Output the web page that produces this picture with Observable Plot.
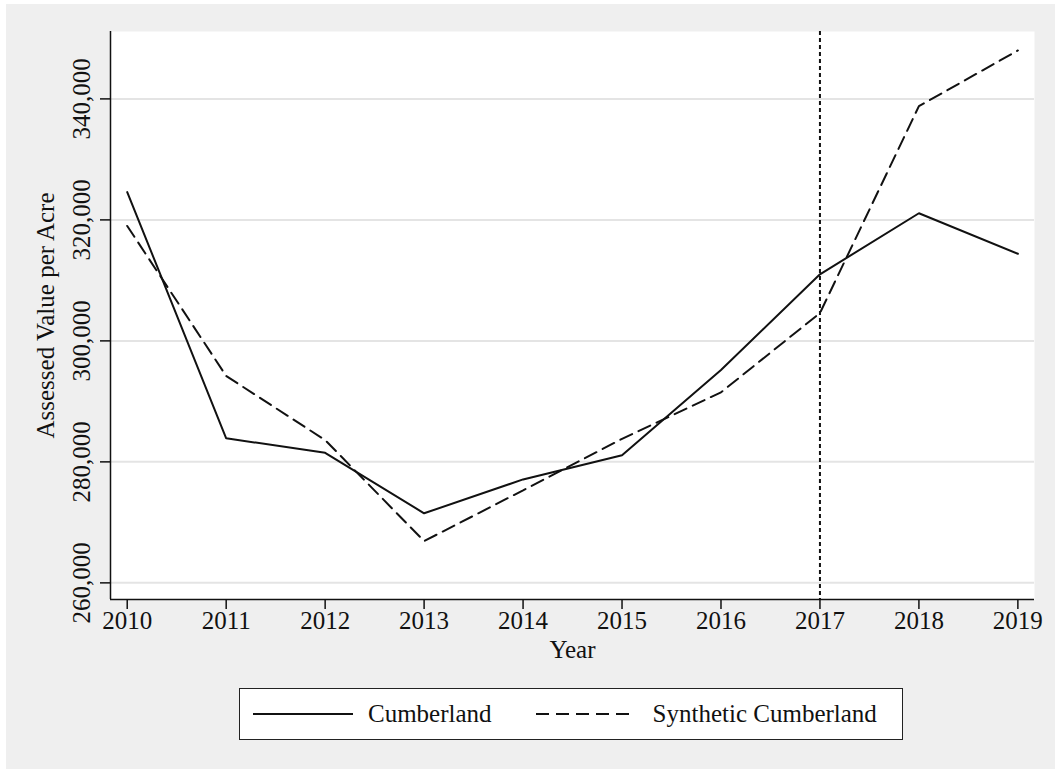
<!DOCTYPE html>
<html>
<head>
<meta charset="utf-8">
<script src="https://cdn.jsdelivr.net/npm/d3@7"></script>
<script src="https://cdn.jsdelivr.net/npm/@observablehq/plot@0.6"></script>
<style>
  html, body { margin: 0; padding: 0; background: #ffffff; }
  #panel {
    position: absolute; left: 6px; top: 4px; width: 1049px; height: 765px;
    background: #efefef; font-family: "Liberation Serif", serif;
  }
  #legend {
    position: absolute; left: 233px; top: 684px; width: 664px; height: 52px;
    box-sizing: border-box; border: 1.2px solid #222; background: #ffffff;
    display: flex; align-items: center; font-size: 25px; color: #111;
  }
  #legend svg { display: block; }
</style>
</head>
<body>
<div id="panel"></div>
<script>
// Assessed value per acre, actual vs. synthetic control
const years = [2010, 2011, 2012, 2013, 2014, 2015, 2016, 2017, 2018, 2019];
const cumberland = [324600, 283900, 281500, 271500, 277100, 281100, 295200, 311000, 321100, 314400];
const synthetic = [319000, 294200, 283600, 266900, 275300, 283800, 291500, 304600, 338800, 348000];
const yTicks = [260000, 280000, 300000, 320000, 340000];
const treatmentYear = 2017;
const seriesNames = ["Cumberland", "Synthetic Cumberland"];

const rows = years.flatMap((year, i) => [
  {year, value: cumberland[i], series: seriesNames[0]},
  {year, value: synthetic[i], series: seriesNames[1]}
]);

const xDomain = [2009.831, 2019.168];
const yDomain = [257250, 351140];
const fmt = d3.format(",");
const ink = "#111111";
const fs = 25;

const chart = Plot.plot({
  width: 1049,
  height: 665,
  marginLeft: 104,
  marginRight: 21,
  marginTop: 27,
  marginBottom: 70,
  style: {fontFamily: "Liberation Serif, serif", fontSize: fs + "px", background: "transparent", color: ink},
  x: {domain: xDomain, axis: null},
  y: {domain: yDomain, axis: null},
  marks: [
    Plot.frame({fill: "#ffffff", stroke: null}),
    Plot.ruleY(yTicks, {stroke: "#e4e4e4", strokeWidth: 2}),
    // axis lines
    Plot.ruleX([xDomain[0]], {stroke: ink, strokeWidth: 1.5}),
    Plot.ruleY([yDomain[0]], {stroke: ink, strokeWidth: 1.5}),
    // ticks and labels
    Plot.axisX(years, {anchor: "bottom", tickSize: 10, tickPadding: 2, tickFormat: d => String(d), label: null, stroke: ink, strokeWidth: 1.5, fill: ink, fontSize: fs}),
    Plot.axisY(yTicks, {anchor: "left", tickSize: 10, tickFormat: () => "", label: null, stroke: ink, strokeWidth: 1.5}),
    Plot.text(yTicks, {x: xDomain[0], y: d => d, text: d => fmt(d), rotate: -90, textAnchor: "middle", lineAnchor: "bottom", dx: -21, fill: ink, fontSize: fs}),
    Plot.text(["Assessed Value per Acre"], {frameAnchor: "left", text: d => d, rotate: -90, textAnchor: "middle", lineAnchor: "bottom", dx: -57, fill: ink, fontSize: fs}),
    Plot.text(["Year"], {frameAnchor: "bottom", text: d => d, lineAnchor: "top", dy: 41, fill: ink, fontSize: fs}),
    // treatment year
    Plot.ruleX([treatmentYear], {stroke: ink, strokeWidth: 2, strokeDasharray: "4,3"}),
    // series
    Plot.line(rows.filter(d => d.series === seriesNames[1]), {x: "year", y: "value", stroke: ink, strokeWidth: 2, strokeDasharray: "13,7", strokeLinejoin: "miter"}),
    Plot.line(rows.filter(d => d.series === seriesNames[0]), {x: "year", y: "value", stroke: ink, strokeWidth: 2, strokeLinejoin: "miter"})
  ]
});

const panel = document.getElementById("panel");
panel.appendChild(chart);

// legend below the chart
const legend = document.createElement("div");
legend.id = "legend";
function sample(dash) {
  const ns = "http://www.w3.org/2000/svg";
  const s = document.createElementNS(ns, "svg");
  s.setAttribute("width", 100);
  s.setAttribute("height", 10);
  const l = document.createElementNS(ns, "line");
  l.setAttribute("x1", 0); l.setAttribute("x2", 100);
  l.setAttribute("y1", 5); l.setAttribute("y2", 5);
  l.setAttribute("stroke", ink); l.setAttribute("stroke-width", 2);
  if (dash) l.setAttribute("stroke-dasharray", dash);
  s.appendChild(l);
  return s;
}
function item(dash, label, lead, gap) {
  const wrap = document.createElement("div");
  wrap.style.display = "flex";
  wrap.style.alignItems = "center";
  wrap.style.marginLeft = lead + "px";
  wrap.appendChild(sample(dash));
  const t = document.createElement("span");
  t.textContent = label;
  t.style.marginLeft = gap + "px";
  wrap.appendChild(t);
  return wrap;
}
legend.appendChild(item(null, seriesNames[0], 13, 15));
legend.appendChild(item("13,7", seriesNames[1], 44, 17));
panel.appendChild(legend);
</script>
</body>
</html>
